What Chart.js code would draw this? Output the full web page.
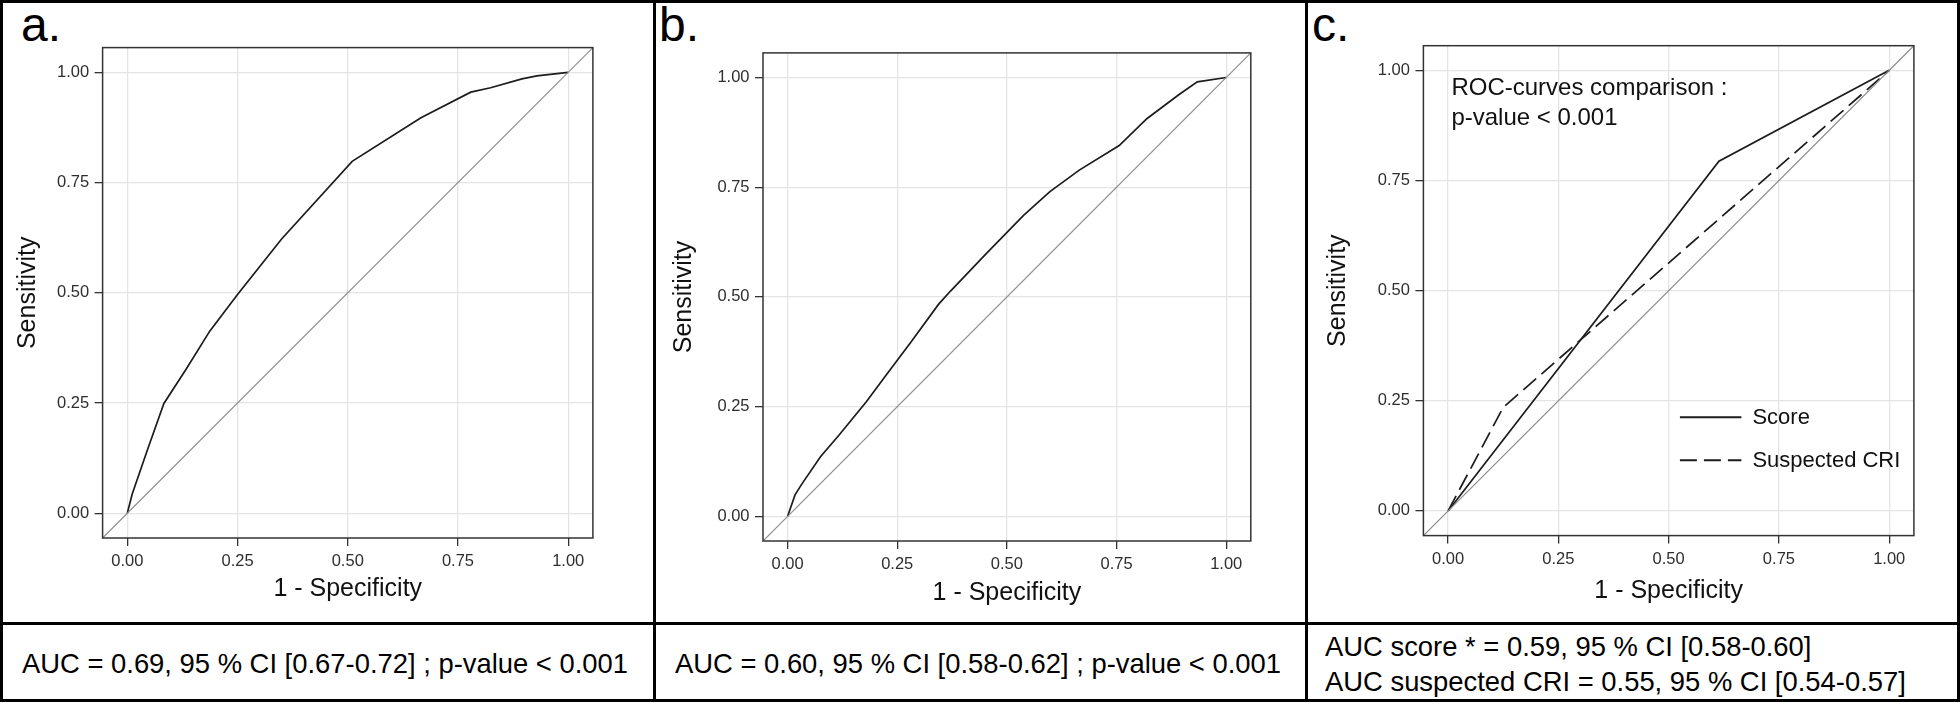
<!DOCTYPE html>
<html>
<head>
<meta charset="utf-8">
<title>ROC curves</title>
<script src="https://cdn.jsdelivr.net/npm/chart.js@4.4.1/dist/chart.umd.min.js"></script>
<style>
  html, body { margin: 0; padding: 0; background: #fff; }
  body {
    width: 1960px; height: 702px; position: relative; overflow: hidden;
    font-family: "Liberation Sans", Arial, Helvetica, sans-serif;
  }
  canvas { position: absolute; top: 0; }
  .rule { position: absolute; background: #000; z-index: 5; }
  .tag { position: absolute; top: 1px; font-size: 48px; line-height: 48px; color: #000; }
  .note { position: absolute; font-size: 27.4px; line-height: 33px; color: #000; white-space: nowrap; }
</style>
</head>
<body>

<div class="tag" style="left:21px">a.</div>
<div class="tag" style="left:659px">b.</div>
<div class="tag" style="left:1312px">c.</div>

<canvas id="roc-a" width="652" height="620" style="left:0"></canvas>
<canvas id="roc-b" width="652" height="620" style="left:654px"></canvas>
<canvas id="roc-c" width="652" height="620" style="left:1306px"></canvas>

<div class="note" style="left:22px; top:647px">AUC = 0.69, 95 % CI [0.67-0.72] ; p-value &lt; 0.001</div>
<div class="note" style="left:675px; top:647px">AUC = 0.60, 95 % CI [0.58-0.62] ; p-value &lt; 0.001</div>
<div class="note" style="left:1325px; top:630px">AUC score * = 0.59, 95 % CI [0.58-0.60]</div>
<div class="note" style="left:1325px; top:665px">AUC suspected CRI = 0.55, 95 % CI [0.54-0.57]</div>

<!-- table rules -->
<div class="rule" style="left:0; top:0; width:1960px; height:3px"></div>
<div class="rule" style="left:0; top:699px; width:1960px; height:3px"></div>
<div class="rule" style="left:0; top:0; width:3px; height:702px"></div>
<div class="rule" style="left:1957px; top:0; width:3px; height:702px"></div>
<div class="rule" style="left:0; top:622px; width:1960px; height:3px"></div>
<div class="rule" style="left:653px; top:0; width:3px; height:702px"></div>
<div class="rule" style="left:1305px; top:0; width:3px; height:702px"></div>

<script>
// Shared axis settings
const TICK_VALUES = [0, 0.25, 0.5, 0.75, 1];
const AXIS_MIN = -0.056;
const AXIS_MAX = 1.056;

// Panel a: ROC curve of the score
const fprA = [0, 0.011, 0.045, 0.083, 0.133, 0.187, 0.25, 0.35, 0.51, 0.666, 0.779, 0.824, 0.895, 0.929, 1];
const sensA = [0, 0.043, 0.142, 0.249, 0.326, 0.413, 0.496, 0.622, 0.798, 0.897, 0.955, 0.965, 0.985, 0.992, 1];

// Panel b
const fprB = [0, 0.017, 0.032, 0.075, 0.118, 0.18, 0.224, 0.281, 0.344, 0.372, 0.454, 0.538, 0.598, 0.665, 0.756, 0.819, 0.891, 0.934, 1];
const sensB = [0, 0.049, 0.073, 0.136, 0.186, 0.262, 0.321, 0.397, 0.483, 0.514, 0.6, 0.686, 0.74, 0.789, 0.845, 0.906, 0.96, 0.99, 1];

// Panel c: score vs suspected CRI
const fprScore = [0, 0.614, 1];
const sensScore = [0, 0.794, 1];
const fprCri = [0, 0.125, 1];
const sensCri = [0, 0.235, 1];

// Chance line y = x, spanning the whole axis range
const chanceX = [AXIS_MIN, AXIS_MAX];

const FONT = "'Liberation Sans', Arial, Helvetica, sans-serif";
const CURVE_COLOR = '#1c1c1c';
const CRI_DASH = [17, 7];

function pairUp(xs, ys) {
    return xs.map((x, i) => ({ x: x, y: ys[i] }));
}

function chanceDataset() {
    return {
        data: pairUp(chanceX, chanceX),
        borderColor: '#8c8c8c',
        borderWidth: 1.2
    };
}

// Dark box around the plotting region (ggplot panel border)
const framePlugin = {
    id: 'frame',
    afterDraw(chart) {
        const { ctx, chartArea: a } = chart;
        ctx.save();
        ctx.strokeStyle = '#333';
        ctx.lineWidth = 1.5;
        ctx.strokeRect(a.left, a.top, a.right - a.left, a.bottom - a.top);
        ctx.restore();
    }
};

// Annotation text and legend drawn inside panel c
const notesPlugin = {
    id: 'rocNotes',
    afterDraw(chart, args, opts) {
        if (!opts || !opts.lines) return;
        const { ctx, chartArea: a } = chart;
        ctx.save();
        ctx.fillStyle = '#111';
        ctx.font = `24px ${FONT}`;
        ctx.textBaseline = 'alphabetic';
        opts.lines.forEach((txt, i) => ctx.fillText(txt, a.left + 28, a.top + 49 + i * 30));

        ctx.font = `22px ${FONT}`;
        ctx.textBaseline = 'middle';
        opts.legend.forEach((item, i) => {
            const ds = chart.data.datasets[item.dataset];
            const y = a.top + 371.5 + i * 43;
            ctx.strokeStyle = ds.borderColor;
            ctx.lineWidth = 2;
            ctx.setLineDash(ds.borderDash || []);
            ctx.beginPath();
            ctx.moveTo(a.left + 256.5, y);
            ctx.lineTo(a.left + 318, y);
            ctx.stroke();
            ctx.setLineDash([]);
            ctx.fillText(item.label, a.left + 329, y + 1);
        });
        ctx.restore();
    }
};

function axis(title, size, titlePad) {
    return {
        type: 'linear',
        min: AXIS_MIN,
        max: AXIS_MAX,
        afterBuildTicks: s => { s.ticks = TICK_VALUES.map(v => ({ value: v })); },
        afterFit: s => { if (s.isHorizontal()) s.height = size; else s.width = size; },
        ticks: {
            callback: v => Number(v).toFixed(2),
            color: '#2e2e2e',
            font: { family: FONT, size: 16.5 },
            padding: 5.5,
            autoSkip: false,
            maxRotation: 0
        },
        grid: {
            color: '#e4e4e4',
            lineWidth: 1.3,
            tickColor: '#333',
            tickLength: 8,
            tickWidth: 1.3
        },
        border: { display: false },
        title: {
            display: true,
            text: title,
            color: '#111',
            font: { family: FONT, size: 25 },
            padding: titlePad
        }
    };
}

function makePanel(id, datasets, layout, notes) {
    const ctx = document.getElementById(id).getContext('2d');
    return new Chart(ctx, {
        type: 'scatter',
        data: {
            datasets: datasets.map(ds => Object.assign({
                showLine: true,
                pointRadius: 0,
                tension: 0,
                fill: false
            }, ds))
        },
        options: {
            responsive: false,
            animation: false,
            events: [],
            layout: { padding: { top: layout.top, right: layout.right, left: 0, bottom: 0 } },
            scales: {
                x: axis('1 - Specificity', layout.xHeight, { top: 0, bottom: layout.xTitle }),
                y: axis('Sensitivity', layout.yWidth, { top: layout.yTitle, bottom: 0 })
            },
            plugins: {
                legend: { display: false },
                tooltip: { enabled: false },
                rocNotes: notes || {}
            }
        },
        plugins: [framePlugin, notesPlugin]
    });
}

makePanel('roc-a', [
    chanceDataset(),
    { data: pairUp(fprA, sensA), borderColor: CURVE_COLOR, borderWidth: 1.7 }
], { top: 47.6, right: 59.1, yWidth: 102.6, xHeight: 82, yTitle: 13, xTitle: 16 });

makePanel('roc-b', [
    chanceDataset(),
    { data: pairUp(fprB, sensB), borderColor: CURVE_COLOR, borderWidth: 1.7 }
], { top: 52.9, right: 55.2, yWidth: 109, xHeight: 79, yTitle: 15.3, xTitle: 12 });

makePanel('roc-c', [
    chanceDataset(),
    { data: pairUp(fprScore, sensScore), borderColor: CURVE_COLOR, borderWidth: 1.7 },
    { data: pairUp(fprCri, sensCri), borderColor: CURVE_COLOR, borderWidth: 1.7, borderDash: CRI_DASH }
], { top: 45.7, right: 44.1, yWidth: 117.4, xHeight: 84.4, yTitle: 17.5, xTitle: 14 }, {
    lines: ['ROC-curves comparison :', 'p-value < 0.001'],
    legend: [{ label: 'Score', dataset: 1 }, { label: 'Suspected CRI', dataset: 2 }]
});
</script>
</body>
</html>
